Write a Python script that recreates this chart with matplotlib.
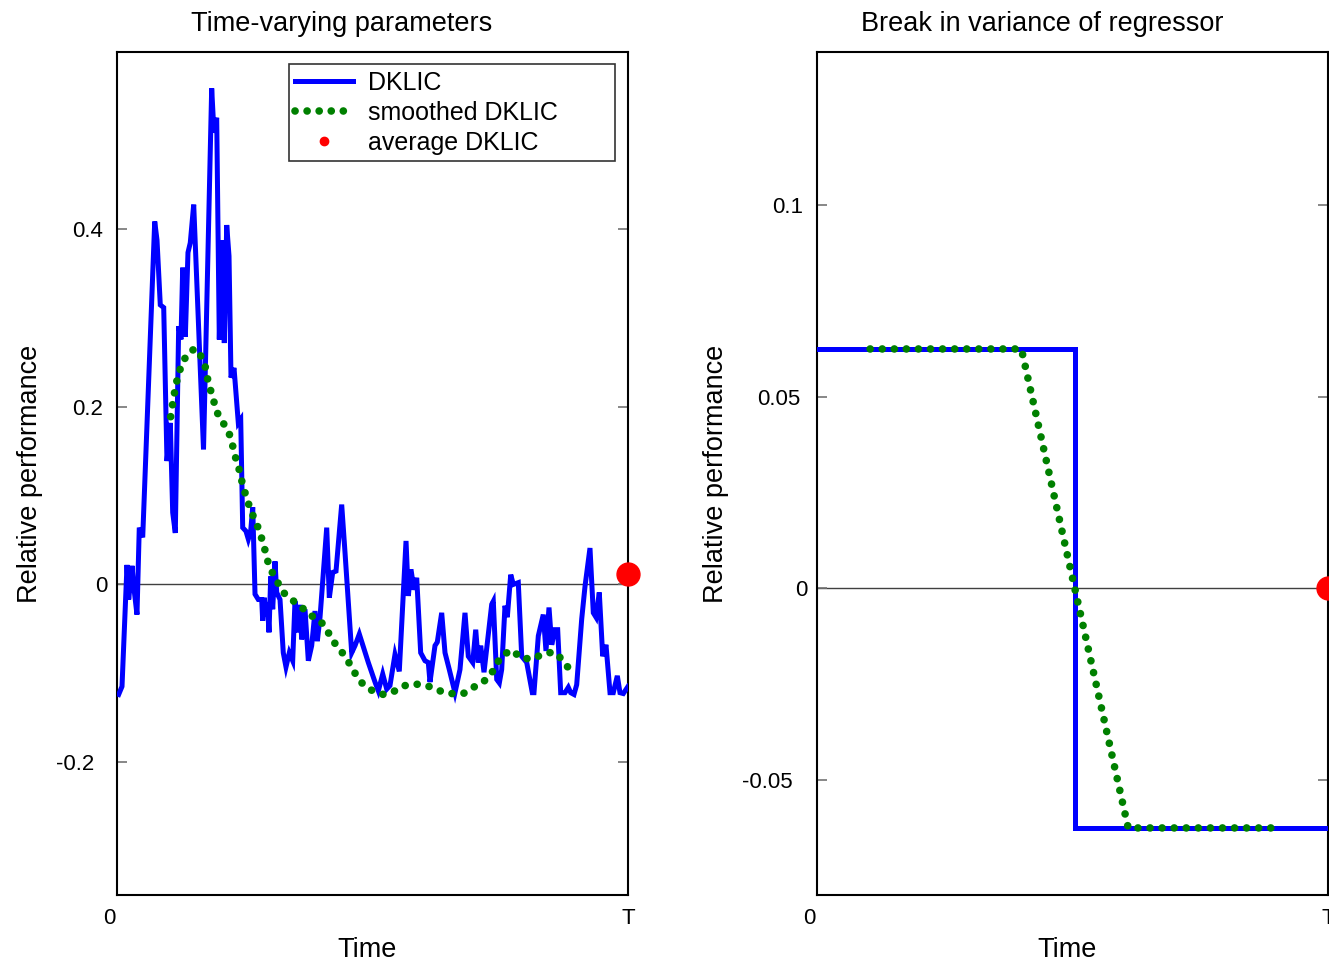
"""
DKLIC relatif : parametres variables dans le temps vs rupture de variance.
Deux panneaux cote a cote, sortie dans out.png
"""
import matplotlib
matplotlib.use("Agg")
import matplotlib.pyplot as plt
import matplotlib.transforms as mtransforms
from matplotlib.lines import Line2D

plt.rcParams["font.family"] = ["Liberation Sans", "DejaVu Sans"]

# ---- panneau gauche : parametres variables (temps en fraction de T)
tv_time = [0.0033, 0.0098, 0.0196, 0.0229, 0.0294, 0.0327, 0.0391, 0.0436, 0.0503,
           0.0738, 0.0783, 0.0847, 0.0914, 0.0978, 0.1043, 0.1090, 0.1141, 0.1207,
           0.1252, 0.1286, 0.1337, 0.1389, 0.1434, 0.1501, 0.1693, 0.1853, 0.1898,
           0.1951, 0.2002, 0.2049, 0.2100, 0.2147, 0.2192, 0.2231, 0.2290, 0.2374,
           0.2421, 0.2460, 0.2524, 0.2570, 0.2616, 0.2656, 0.2701, 0.2765, 0.2832,
           0.2851, 0.2883, 0.2916, 0.2941, 0.2975, 0.3008, 0.3047, 0.3092, 0.3125,
           0.3190, 0.3254, 0.3307, 0.3372, 0.3438, 0.3483, 0.3548, 0.3581, 0.3614,
           0.3679, 0.3744, 0.3810, 0.3875, 0.3920, 0.3973, 0.4104, 0.4155, 0.4221,
           0.4286, 0.4397, 0.4462, 0.4593, 0.4658, 0.4742, 0.4918, 0.5049, 0.5114,
           0.5200, 0.5278, 0.5342, 0.5440, 0.5524, 0.5656, 0.5701, 0.5753, 0.5812,
           0.5865, 0.5943, 0.6027, 0.6092, 0.6125, 0.6223, 0.6268, 0.6354, 0.6419,
           0.6503, 0.6614, 0.6712, 0.6810, 0.6875, 0.6961, 0.7020, 0.7070, 0.7117,
           0.7182, 0.7333, 0.7364, 0.7431, 0.7482, 0.7528, 0.7593, 0.7638, 0.7705,
           0.7756, 0.7853, 0.7920, 0.8018, 0.8127, 0.8160, 0.8245, 0.8342, 0.8395,
           0.8454, 0.8507, 0.8571, 0.8624, 0.8683, 0.8767, 0.8832, 0.8879, 0.8943,
           0.8996, 0.9094, 0.9159, 0.9256, 0.9321, 0.9374, 0.9438, 0.9505, 0.9569,
           0.9648, 0.9712, 0.9791, 0.9843, 0.9908, 1.0000]
tv_dklic = [-0.124, -0.115, 0.022, -0.017, 0.021, -0.002, -0.034, 0.064, 0.053,
            0.409, 0.388, 0.315, 0.312, 0.139, 0.182, 0.081, 0.058, 0.291,
            0.276, 0.357, 0.279, 0.374, 0.385, 0.428, 0.152, 0.559, 0.509,
            0.526, 0.276, 0.388, 0.272, 0.405, 0.370, 0.233, 0.244, 0.182,
            0.186, 0.064, 0.060, 0.051, 0.060, 0.087, -0.011, -0.017, -0.017,
            -0.041, -0.015, -0.036, -0.020, -0.054, 0.009, -0.028, 0.026, -0.009,
            -0.017, -0.077, -0.093, -0.077, -0.086, -0.019, -0.054, -0.023, -0.062,
            -0.028, -0.086, -0.069, -0.030, -0.064, -0.037, 0.064, -0.015, 0.0135,
            0.015, 0.090, 0.036, -0.077, -0.069, -0.056, -0.088, -0.110, -0.120,
            -0.101, -0.118, -0.114, -0.079, -0.098, 0.049, -0.013, 0.017, -0.006,
            0.0075, -0.077, -0.086, -0.088, -0.110, -0.069, -0.065, -0.032, -0.077,
            -0.096, -0.122, -0.096, -0.032, -0.081, -0.088, -0.051, -0.088, -0.069,
            -0.099, -0.0225, -0.019, -0.107, -0.111, -0.096, -0.024, -0.037, 0.011,
            0.000, 0.002, -0.081, -0.088, -0.122, -0.122, -0.058, -0.034, -0.075,
            -0.026, -0.068, -0.051, -0.051, -0.122, -0.122, -0.116, -0.122, -0.124,
            -0.113, -0.039, -0.002, 0.041, -0.032, -0.037, -0.009, -0.081, -0.068,
            -0.122, -0.122, -0.103, -0.122, -0.123, -0.115]

tv_smooth_time = [0.105, 0.1082, 0.1115, 0.1155, 0.12, 0.1278, 0.1376, 0.1532, 0.1658,
                  0.1728, 0.1767, 0.182, 0.1885, 0.1932, 0.2029, 0.2147, 0.2231, 0.2276,
                  0.2329, 0.2393, 0.244, 0.2491, 0.255, 0.2622, 0.2714, 0.2793, 0.2851,
                  0.2909, 0.296, 0.3047, 0.3157, 0.3254, 0.3438, 0.3601, 0.3763, 0.3959,
                  0.4104, 0.4188, 0.4331, 0.4462, 0.4579, 0.4677, 0.482, 0.5004, 0.5211,
                  0.544, 0.5636, 0.5877, 0.6106, 0.6321, 0.655, 0.6777, 0.6973, 0.7168,
                  0.7333, 0.7431, 0.756, 0.7736, 0.79, 0.8115, 0.8323, 0.8538, 0.8703,
                  0.8832, 0.8996]
tv_smooth = [0.189, 0.201, 0.213, 0.225, 0.237, 0.249, 0.260, 0.266, 0.256,
             0.245, 0.233, 0.221, 0.209, 0.197, 0.186, 0.176, 0.165, 0.153,
             0.141, 0.129, 0.117, 0.106, 0.095, 0.0825, 0.071, 0.059, 0.048,
             0.036, 0.024, 0.0124, 0.001, -0.009, -0.018, -0.025, -0.034, -0.040,
             -0.050, -0.061, -0.071, -0.081, -0.092, -0.102, -0.113, -0.120, -0.124,
             -0.120, -0.114, -0.1125, -0.115, -0.120, -0.123, -0.123, -0.116, -0.110,
             -0.100, -0.089, -0.079, -0.074, -0.083, -0.084, -0.079, -0.076, -0.084,
             -0.094, -0.101]
tv_average = 0.012

# ---- panneau droit : rupture de variance du regresseur
br_time = [0.0, 0.505, 0.505, 1.0]
br_dklic = [0.0625, 0.0625, -0.0625, -0.0625]
br_smooth_time = [0.104, 0.40, 0.609, 0.906]
br_smooth = [0.0625, 0.0625, -0.0625, -0.0625]
br_average = 0.0

x_ticks = [0, 1]
x_ticklabels = ["0", "T"]
tv_yticks = [-0.2, 0, 0.2, 0.4]
tv_yticklabels = ["-0.2", "0", "0.2", "0.4"]
br_yticks = [-0.05, 0, 0.05, 0.1]
br_yticklabels = ["-0.05", "0", "0.05", "0.1"]

DOTS = (0, (0.01, 1.57))   # pointilles ronds, ~12 px d'ecart


def shift(txt, fig, dx_px):
    """Decale un texte horizontalement de dx_px pixels."""
    txt.set_transform(txt.get_transform() + mtransforms.ScaledTranslation(
        dx_px / 100, 0, fig.dpi_scale_trans))


def draw_panel(ax, t, y, ts, ys, avg, title, yticks, yticklabels, ylim):
    ax.axhline(0, color="0.25", lw=1.0, zorder=1)
    ax.plot(t, y, color="#0000ff", lw=3.6, solid_joinstyle="miter", zorder=3)
    ax.plot(ts, ys, color="#008000", lw=5.5, linestyle=DOTS,
            dash_capstyle="round", zorder=4)
    ax.plot([1], [avg], "o", color="#ff0000", ms=16.5, clip_on=False, zorder=5)

    ax.set_xlim(0, 1)
    ax.set_ylim(*ylim)
    ax.set_xticks(x_ticks)
    ax.set_xticklabels(x_ticklabels)
    ax.set_yticks(yticks)
    ax.set_yticklabels(yticklabels)
    ax.tick_params(axis="y", direction="in", length=7, width=1.2, color="0.45",
                   right=True, labelsize=16, pad=7.2)
    ax.tick_params(axis="x", length=0, labelsize=16, pad=9)
    # le "0" de l'axe temps est legerement decale a gauche
    shift(ax.get_xticklabels()[0], ax.figure, -8)
    # etiquettes y : alignement "a la MATLAB", les longues glissent a gauche
    for lab in ax.get_yticklabels():
        s = lab.get_text()
        dx = -2.1 * (len(s) - 1) - (6 if s.startswith("-") else 0)
        shift(lab, ax.figure, dx)
    for sp in ax.spines.values():
        sp.set_linewidth(1.5)
        sp.set_color("black")

    ax.set_title(title, fontsize=19.5, x=0.44, pad=15)
    ax.set_xlabel("Time", fontsize=19.5, labelpad=6)
    ax.xaxis.label.set_x(0.49)
    ax.set_ylabel("Relative performance", fontsize=19.5, labelpad=9.5)


fig = plt.figure(figsize=(13.29, 9.61), dpi=100)
ax1 = fig.add_axes([117 / 1329, 66 / 961, 511 / 1329, 843 / 961])
ax2 = fig.add_axes([817 / 1329, 66 / 961, 511 / 1329, 843 / 961])

draw_panel(ax1, tv_time, tv_dklic, tv_smooth_time, tv_smooth, tv_average,
           "Time-varying parameters", tv_yticks, tv_yticklabels, (-0.35, 0.6))
draw_panel(ax2, br_time, br_dklic, br_smooth_time, br_smooth, br_average,
           "Break in variance of regressor", br_yticks, br_yticklabels, (-0.08, 0.14))

handles = [
    Line2D([], [], color="#0000ff", lw=3.6),
    Line2D([], [], color="#008000", lw=5.5, linestyle=DOTS, dash_capstyle="round"),
    Line2D([], [], color="#ff0000", marker="o", ms=6, linestyle="none"),
]
# cadre de legende large, comme l'original
leg_x0 = (289 - 117) / 511
leg_w = (615 - 289) / 511
leg_top = (895 - 64.5) / 843
leg = ax1.legend(handles, ["DKLIC", "smoothed DKLIC", "average DKLIC"],
                 loc="upper left", mode="expand",
                 bbox_to_anchor=(leg_x0, leg_top - 0.4, leg_w, 0.4),
                 borderaxespad=0, fontsize=18, frameon=True, fancybox=False,
                 handlelength=2.3, handletextpad=0.6, labelspacing=0.25,
                 borderpad=0.25)
leg.get_frame().set_edgecolor("black")
leg.get_frame().set_linewidth(1.2)

fig.savefig("out.png", dpi=100)
